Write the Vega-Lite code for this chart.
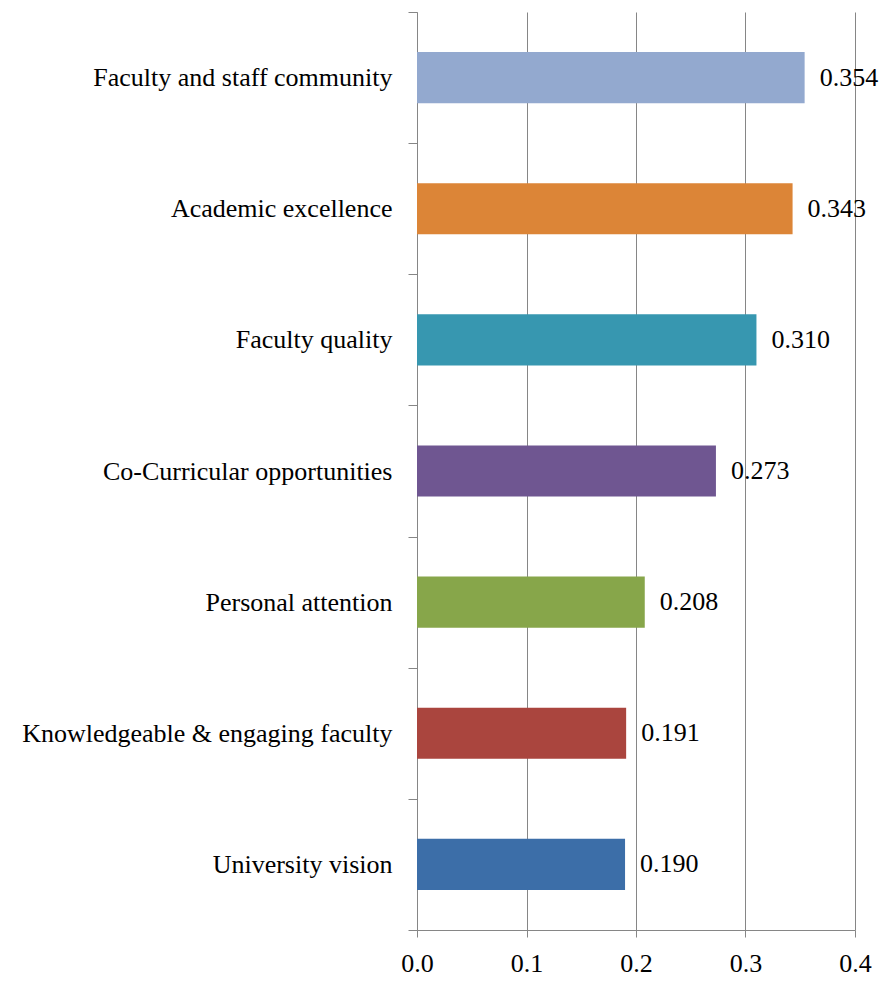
{
  "$schema": "https://vega.github.io/schema/vega-lite/v6.json",
  "autosize": "none",
  "width": 438,
  "height": 918,
  "padding": {"left": 417, "top": 12, "right": 28, "bottom": 53},
  "background": "white",
  "config": {"view": {"stroke": null}, "font": "Liberation Serif"},
  "data": {"values": [
    {"category": "Faculty and staff community", "value": 0.354, "label": "0.354", "color": "#93A9CF"},
    {"category": "Academic excellence", "value": 0.343, "label": "0.343", "color": "#DC8537"},
    {"category": "Faculty quality", "value": 0.310, "label": "0.310", "color": "#3797B0"},
    {"category": "Co-Curricular opportunities", "value": 0.273, "label": "0.273", "color": "#6F5691"},
    {"category": "Personal attention", "value": 0.208, "label": "0.208", "color": "#87A64A"},
    {"category": "Knowledgeable & engaging faculty", "value": 0.191, "label": "0.191", "color": "#AA453E"},
    {"category": "University vision", "value": 0.190, "label": "0.190", "color": "#3C6EA8"}
  ]},
  "encoding": {
    "y": {
      "field": "category", "type": "nominal", "sort": null,
      "scale": {"paddingInner": 0, "paddingOuter": 0},
      "axis": {
        "title": null, "tickBand": "extent", "domainColor": "#868686", "tickColor": "#868686",
        "tickSize": 9, "labelPadding": 16, "labelFontSize": 26, "labelColor": "#000000",
        "labelFont": "Liberation Serif", "labelLimit": 420, "grid": false
      }
    },
    "x": {
      "field": "value", "type": "quantitative",
      "scale": {"domain": [0, 0.4], "nice": false},
      "axis": {
        "title": null, "values": [0, 0.1, 0.2, 0.3, 0.4], "format": ".1f",
        "grid": true, "gridColor": "#868686", "gridOpacity": 1,
        "domainColor": "#868686", "tickColor": "#868686", "tickSize": 7,
        "labelPadding": 13, "labelFontSize": 26, "labelColor": "#000000",
        "labelFont": "Liberation Serif", "labelFlush": false
      }
    }
  },
  "layer": [
    {"mark": {"type": "bar", "height": {"band": 0.39}}, "encoding": {"color": {"field": "color", "type": "nominal", "scale": null}}},
    {"mark": {"type": "text", "align": "left", "baseline": "middle", "dx": 15, "fontSize": 26, "font": "Liberation Serif", "color": "#000000"},
     "encoding": {"text": {"field": "label", "type": "nominal"}}}
  ]
}
